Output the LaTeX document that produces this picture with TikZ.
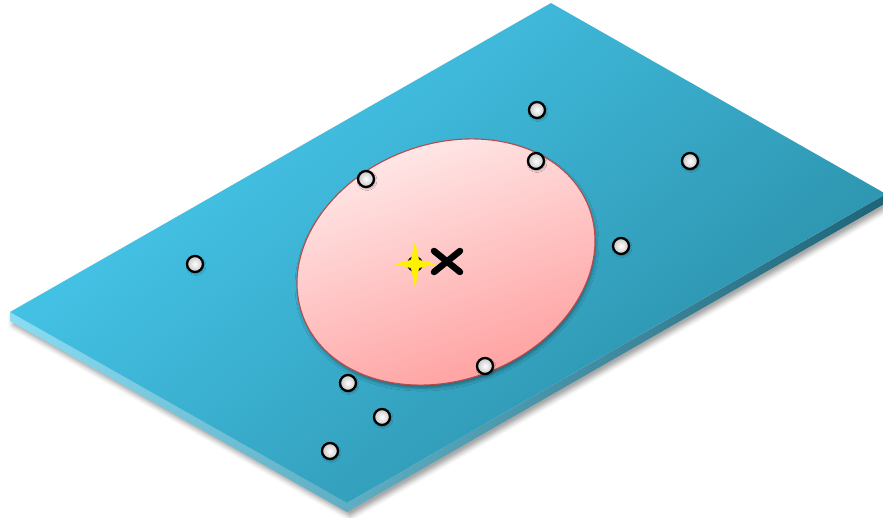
\documentclass[tikz,border=0pt]{standalone}
\usetikzlibrary{shadows.blur}
\definecolor{planeLight}{HTML}{48CBF0}
\definecolor{planeDark}{HTML}{2A8DA6}
\definecolor{sideLight}{HTML}{8ADCF2}
\definecolor{sideDark}{HTML}{1E6478}
\definecolor{pinkLight}{HTML}{FFE8E8}
\definecolor{pinkDark}{HTML}{FF9A9A}
\definecolor{pinkBorder}{HTML}{B84A4A}
\definecolor{starYellow}{HTML}{FFF200}
\tikzset{
  dot/.style={circle, minimum size=16pt, inner sep=0pt, draw=black, line width=2.3pt,
    inner color=white, outer color=black!22,
    blur shadow={shadow xshift=1pt, shadow yshift=-1.5pt, shadow blur radius=2pt, shadow opacity=35}},
}
\begin{document}
\begin{tikzpicture}[x=1pt,y=-1pt]
\useasboundingbox (0,0) rectangle (883,517);
% plane corners
\coordinate (T) at (551,3);
\coordinate (R) at (886,194);
\coordinate (B) at (347,503);
\coordinate (L) at (10,312);
\coordinate (Rd) at (886,203);
\coordinate (Bd) at (347,512);
\coordinate (Ld) at (10,321);
% side face with shadow
\shade[left color=sideLight, right color=sideDark,
  blur shadow={shadow xshift=3pt, shadow yshift=-4pt, shadow blur radius=5pt, shadow opacity=40}]
  (L) -- (B) -- (R) -- (Rd) -- (Bd) -- (Ld) -- cycle;
% top face
\shade[top color=planeLight, bottom color=planeDark, shading angle=40]
  (T) -- (R) -- (B) -- (L) -- cycle;
% ellipse
\shade[rotate around={21:(446,262)}, top color=pinkLight, bottom color=pinkDark, shading angle=20,
  draw=pinkBorder, line width=1.1pt,
  blur shadow={shadow xshift=1pt, shadow yshift=-3pt, shadow blur radius=3pt, shadow opacity=35}]
  (446,262) ellipse [x radius=153, y radius=118];
% dots
\node[dot] (d1) at (537,110) {};
\node[dot] (d2) at (536,161) {};
\node[dot] (d3) at (690,161) {};
\node[dot] (d4) at (366,179) {};
\node[dot] (d5) at (195,264) {};
\node[dot] (d6) at (621,246) {};
\node[dot] (d7) at (485,366) {};
\node[dot] (d8) at (348,383) {};
\node[dot] (d9) at (382,417) {};
\node[dot] (d10) at (330,451) {};
% cross
\begin{scope}[line width=6.5pt, line cap=round]
\draw[black] (434,251) -- (460,272);
\draw[black] (434,272) -- (460,251);
\end{scope}
% star
\fill[black!85] (415,264) circle [radius=8];
\fill[starYellow] (415,241) -- (419,260) -- (436,264) -- (419,268) -- (415,288) -- (411,268) -- (394,264) -- (411,260) -- cycle;
\end{tikzpicture}
\end{document}
